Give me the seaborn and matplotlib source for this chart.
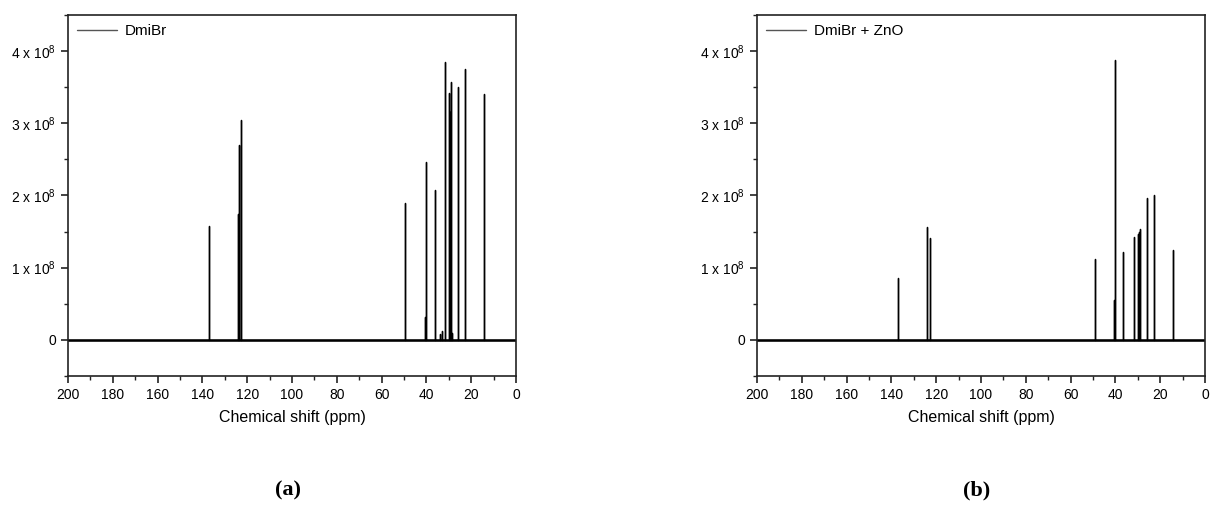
import pandas as pd
import seaborn as sns
import matplotlib.pyplot as plt
from matplotlib.ticker import MultipleLocator, FuncFormatter

# peak positions (ppm) and intensities
peaks_a = [137.0, 124.2, 123.8, 122.8, 49.6, 40.5, 40.3, 36.3, 33.8, 32.9, 31.8,
           29.9, 29.3, 29.0, 28.6, 26.0, 22.6, 14.4]
heights_a = [1.58e8, 1.75e8, 2.70e8, 3.04e8, 1.89e8, 0.32e8, 2.47e8, 2.08e8, 0.08e8,
             0.12e8, 3.85e8, 3.42e8, 3.15e8, 3.57e8, 0.10e8, 3.50e8, 3.75e8, 3.40e8]

peaks_b = [137.0, 123.9, 122.8, 49.2, 40.6, 40.2, 36.5, 31.8, 30.0, 29.6, 29.2,
           26.0, 22.6, 14.4]
heights_b = [0.86e8, 1.56e8, 1.41e8, 1.12e8, 0.55e8, 3.87e8, 1.22e8, 1.43e8, 1.47e8,
             1.50e8, 1.54e8, 1.96e8, 2.01e8, 1.24e8]

labels = ['DmiBr', 'DmiBr + ZnO']
panel_tags = ['(a)', '(b)']


def sticks(pos, hts):
    xs, ys = [200.0], [0.0]
    for p, h in zip(pos, hts):
        xs += [p, p, p]
        ys += [0.0, h, 0.0]
    xs.append(0.0)
    ys.append(0.0)
    return pd.DataFrame({'ppm': xs, 'intensity': ys})


def yfmt(v, _):
    n = int(round(v / 1e8))
    if n == 0:
        return '0'
    return r'%d x 10$^8$' % n


sns.set_style('ticks')
plt.rcParams['font.family'] = ['Liberation Sans', 'DejaVu Sans']
plt.rcParams['mathtext.fontset'] = 'custom'
plt.rcParams['mathtext.rm'] = 'Liberation Sans'
plt.rcParams['mathtext.it'] = 'Liberation Sans'
plt.rcParams['text.color'] = 'black'
plt.rcParams['axes.labelcolor'] = 'black'
plt.rcParams['xtick.color'] = '#222222'
plt.rcParams['ytick.color'] = '#222222'
plt.rcParams['xtick.labelcolor'] = 'black'
plt.rcParams['ytick.labelcolor'] = 'black'

fig = plt.figure(figsize=(12.11, 5.17), dpi=100)
lefts = [68 / 1211, 757 / 1211]
data = [(peaks_a, heights_a), (peaks_b, heights_b)]

for i in range(2):
    ax = fig.add_axes([lefts[i], 141 / 517, 448 / 1211, 361 / 517])
    df = sticks(*data[i])
    ax.axhline(0, color='black', lw=1.8, zorder=1)
    sns.lineplot(data=df, x='ppm', y='intensity', sort=False, estimator=None,
                 color='black', lw=1.0, ax=ax, label=labels[i])
    ax.set_xlim(200, 0)
    ax.set_ylim(-0.5e8, 4.5e8)
    ax.xaxis.set_major_locator(MultipleLocator(20))
    ax.xaxis.set_minor_locator(MultipleLocator(10))
    ax.yaxis.set_major_locator(MultipleLocator(1e8))
    ax.yaxis.set_minor_locator(MultipleLocator(0.5e8))
    ax.yaxis.set_major_formatter(FuncFormatter(yfmt))
    ax.tick_params(which='major', length=5, width=1.2, labelsize=10, direction='out')
    ax.tick_params(which='minor', length=3, width=1.0, direction='out')
    for s in ax.spines.values():
        s.set_linewidth(1.2)
        s.set_color('#222222')
    ax.set_xlabel('Chemical shift (ppm)', fontsize=11.5, labelpad=6)
    ax.set_ylabel('')
    leg = ax.legend(loc='upper left', frameon=False, fontsize=11, handlelength=2.6,
                    borderaxespad=0.2, handletextpad=0.5)
    for h in leg.get_lines():
        h.set_color('#555555')
        h.set_linewidth(1.0)
    fig.text(lefts[i] + 220 / 1211, 27 / 517, panel_tags[i], ha='center', va='center',
             fontsize=16, family='Liberation Serif', fontweight='bold')

fig.savefig('out.png', dpi=100)
